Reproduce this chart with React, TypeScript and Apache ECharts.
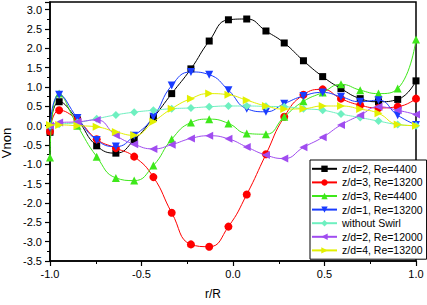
import React, { useEffect, useRef } from "react";
import * as echarts from "echarts";

const X = [-1.0, -0.95, -0.85, -0.745, -0.64, -0.54, -0.435, -0.335, -0.23, -0.13, -0.025, 0.075, 0.18, 0.28, 0.385, 0.49, 0.59, 0.695, 0.795, 0.9, 1.0];

const blackS = [-0.17, 0.62, 0.15, -0.52, -0.71, -0.37, 0.21, 0.83, 1.47, 2.19, 2.74, 2.76, 2.45, 2.14, 1.68, 1.27, 0.96, 0.70, 0.62, 0.68, 1.16];
const redS = [-0.15, 0.40, 0.15, -0.35, -0.58, -0.80, -1.33, -2.25, -3.07, -3.13, -2.61, -1.78, -0.74, 0.23, 0.80, 0.94, 0.70, 0.53, 0.46, 0.49, 0.70];
const greenS = [-0.82, 0.83, 0.0, -0.80, -1.35, -1.42, -1.03, -0.35, 0.08, 0.17, 0.06, -0.20, -0.22, 0.23, 0.63, 0.86, 1.07, 0.92, 0.83, 0.96, 2.23];
const blueS = [-0.05, 0.80, 0.20, -0.37, -0.54, -0.26, 0.23, 1.04, 1.39, 1.32, 0.92, 0.44, 0.36, 0.57, 0.77, 0.86, 0.75, 0.62, 0.66, 0.27, 0.02];
const cyanS = [0.0, 0.04, 0.08, 0.18, 0.28, 0.35, 0.40, 0.44, 0.46, 0.49, 0.51, 0.51, 0.50, 0.49, 0.44, 0.40, 0.30, 0.21, 0.12, 0.03, 0.0];
const purpleS = [0.0, 0.08, 0.10, 0.15, -0.25, -0.48, -0.60, -0.49, -0.33, -0.26, -0.34, -0.55, -0.76, -0.85, -0.56, -0.30, 0.02, 0.27, 0.49, 0.40, 0.29];
const yellowS = [0.02, 0.02, 0.0, -0.03, -0.16, -0.25, 0.10, 0.44, 0.70, 0.83, 0.80, 0.66, 0.51, 0.43, 0.44, 0.51, 0.51, 0.43, 0.32, 0.03, 0.0];

const NAMES = ["z/d=2, Re=4400", "z/d=3, Re=13200", "z/d=3, Re=4400", "z/d=1, Re=13200", "without Swirl", "z/d=2, Re=12000", "z/d=4, Re=13200"];
const COLORS = ["#000000", "#ff0000", "#3ee81a", "#1a3cff", "#6ef0c0", "#a04cf0", "#e2f000"];
const SYMBOLS = ["rect", "circle", "triangle", "triangle", "diamond", "triangle", "triangle"];
const ROTATES = [0, 0, 0, 180, 0, 90, -90];
const SIZES = [7, 8, 8, 8, 8, 8, 8];

export default function App() {
  const ref = useRef<HTMLDivElement>(null);
  useEffect(() => {
    if (!ref.current) return;
    const chart = echarts.init(ref.current, null, { renderer: "svg" });
    const all = [blackS, redS, greenS, blueS, cyanS, purpleS, yellowS];
    const font = "Liberation Sans, Arial, sans-serif";
    chart.setOption({
      animation: false,
      backgroundColor: "#ffffff",
      grid: { left: 50, right: 11, top: 2, bottom: 41, show: true, borderColor: "#000", borderWidth: 1.5, backgroundColor: "transparent" },
      xAxis: {
        type: "value", min: -1, max: 1, interval: 0.5,
        name: "r/R", nameLocation: "middle", nameGap: 27,
        nameTextStyle: { fontFamily: font, fontSize: 12, color: "#000", padding: [0, 40, 0, 0] },
        axisLine: { show: true, onZero: false, lineStyle: { color: "#000", width: 1.5 } },
        axisTick: { show: true, inside: false, length: 5, lineStyle: { color: "#000", width: 1.2 } },
        minorTick: { show: true, splitNumber: 2, length: 3, lineStyle: { color: "#000", width: 1 } },
        splitLine: { show: false },
        axisLabel: { fontFamily: font, fontSize: 11, color: "#000", margin: 7, formatter: (v: number) => v.toFixed(1) },
      },
      yAxis: {
        type: "value", min: -3.5, max: 3.2, interval: 0.5,
        axisLine: { show: true, onZero: false, lineStyle: { color: "#000", width: 1.5 } },
        axisTick: { show: true, inside: false, length: 5, lineStyle: { color: "#000", width: 1.2 } },
        minorTick: { show: true, splitNumber: 2, length: 3, lineStyle: { color: "#000", width: 1 } },
        splitLine: { show: false },
        axisLabel: {
          fontFamily: font, fontSize: 11, color: "#000", margin: 8,
          formatter: (v: number) => (Math.abs(v * 2 - Math.round(v * 2)) < 1e-6 ? v.toFixed(1) : ""),
        },
      },
      legend: {
        orient: "vertical", left: 310, top: 160,
        backgroundColor: "#fff", borderColor: "#000", borderWidth: 1, borderRadius: 0,
        padding: [3, 4, 3, 1], itemWidth: 25, itemHeight: 8, itemGap: 2,
        textStyle: { fontFamily: font, fontSize: 10.5, color: "#000", lineHeight: 11.6 },
        data: NAMES,
      },
      graphic: [
        { type: "text", x: 6, y: 143, rotation: Math.PI / 2, style: { text: "Vnon", fontFamily: font, fontSize: 13, fill: "#000", align: "center", verticalAlign: "middle" } },
      ],
      series: all.map((vals, i) => ({
        name: NAMES[i],
        type: "line",
        smooth: 0.5,
        data: X.map((x, j) => [x, vals[j]]),
        symbol: SYMBOLS[i],
        symbolSize: SIZES[i],
        symbolRotate: ROTATES[i],
        showAllSymbol: true,
        lineStyle: { color: COLORS[i], width: 1 },
        itemStyle: { color: COLORS[i] },
        z: 2 + i,
      })),
    });
    return () => chart.dispose();
  }, []);
  return <div ref={ref} style={{ width: 427, height: 305, position: "absolute", left: 0, top: 0 }} />;
}
